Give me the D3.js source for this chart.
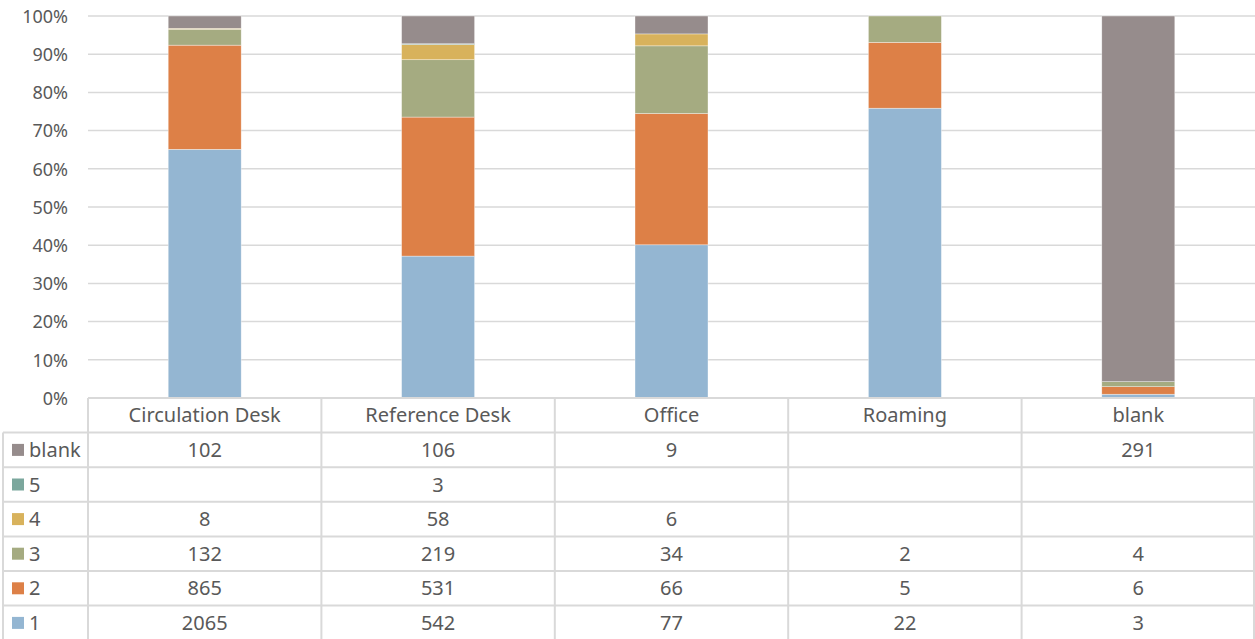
<!DOCTYPE html>
<html>
<head>
<meta charset="utf-8">
<script src="https://cdn.jsdelivr.net/npm/d3@7"></script>
<style>
  html, body { margin: 0; padding: 0; background: #fff; }
  svg { display: block; font-family: "Noto Sans", "DejaVu Sans", sans-serif; }
</style>
</head>
<body>
<svg id="chart" width="1255" height="639"></svg>
<script>
// Locations where questions were answered
const categories = ["Circulation Desk", "Reference Desk", "Office", "Roaming", "blank"];
// Rating series, bottom of the stack first
const seriesNames = ["1", "2", "3", "4", "5", "blank"];
const rating1 = [2065, 542, 77, 22, 3];
const rating2 = [865, 531, 66, 5, 6];
const rating3 = [132, 219, 34, 2, 4];
const rating4 = [8, 58, 6, null, null];
const rating5 = [null, 3, null, null, null];
const ratingBlank = [102, 106, 9, null, 291];
const yTicks = [0, 0.1, 0.2, 0.3, 0.4, 0.5, 0.6, 0.7, 0.8, 0.9, 1];
const colors = ["#94B6D2", "#DD8047", "#A5AB81", "#D8B25C", "#7BA79D", "#968C8C"];

const seriesValues = [rating1, rating2, rating3, rating4, rating5, ratingBlank];

const svg = d3.select("#chart");
const W = 1255;
const plotLeft = 88, plotRight = 1255, plotTop = 16, plotBottom = 398;
const tableTop = 398, rowH = 34.6;
const labelColLeft = 3;
const textColor = "#595959";
const gridColor = "#D9D9D9";
const fontPx = "20px";

// Build rows of {cat, series values}
const rows = categories.map((c, i) => {
  const r = { cat: c };
  seriesNames.forEach((s, j) => { r[s] = seriesValues[j][i] || 0; });
  return r;
});

const stacked = d3.stack().keys(seriesNames).offset(d3.stackOffsetExpand)(rows);

const x = d3.scaleBand().domain(categories).range([plotLeft, plotRight]).paddingInner(0).paddingOuter(0);
const barW = 73;
const y = d3.scaleLinear().domain([0, 1]).range([plotBottom, plotTop]);

// Horizontal gridlines
svg.append("g").selectAll("line").data(yTicks.filter(t => t > 0)).join("line")
  .attr("x1", plotLeft).attr("x2", plotRight)
  .attr("y1", d => y(d)).attr("y2", d => y(d))
  .attr("stroke", gridColor).attr("stroke-width", 1.5);

// Y axis labels
const yAxis = d3.axisLeft(y).tickValues(yTicks).tickFormat(d3.format(".0%")).tickSize(0).tickPadding(0);
const gy = svg.append("g").attr("transform", `translate(68,0)`).call(yAxis);
gy.select(".domain").remove();
gy.selectAll("text").attr("fill", textColor).style("font-size", "18px")
  .style("font-family", "'Noto Sans', sans-serif").attr("dy", "0.35em");

// Stacked bars
svg.append("g").selectAll("g").data(stacked).join("g")
  .attr("fill", (d, i) => colors[i])
  .selectAll("rect").data(d => d).join("rect")
  .attr("x", d => x(d.data.cat) + x.bandwidth() / 2 - barW / 2)
  .attr("width", barW)
  .attr("y", d => y(d[1]))
  .attr("height", d => Math.max(0, y(d[0]) - y(d[1])))
  .attr("stroke", "#fff").attr("stroke-width", 0.6).attr("stroke-opacity", 0.6);

// Data table
const table = svg.append("g");
const nRows = seriesNames.length;
const tableBottom = tableTop + rowH * (nRows + 1);

// Horizontal table lines
const hLines = [];
hLines.push({ x1: plotLeft, y: tableTop });
for (let i = 1; i <= nRows; i++) hLines.push({ x1: labelColLeft, y: tableTop + rowH * i });
table.selectAll("line.h").data(hLines).join("line").attr("class", "h")
  .attr("x1", d => d.x1).attr("x2", W).attr("y1", d => d.y).attr("y2", d => d.y)
  .attr("stroke", gridColor).attr("stroke-width", 2);

// Vertical table lines
const vLines = categories.map(c => x(c)).concat([plotRight - 1]);
table.selectAll("line.v").data(vLines).join("line").attr("class", "v")
  .attr("x1", d => d).attr("x2", d => d).attr("y1", tableTop).attr("y2", tableBottom)
  .attr("stroke", gridColor).attr("stroke-width", 2);
table.append("line").attr("x1", labelColLeft).attr("x2", labelColLeft)
  .attr("y1", tableTop + rowH).attr("y2", tableBottom)
  .attr("stroke", gridColor).attr("stroke-width", 2);

// Category header row
table.selectAll("text.cat").data(categories).join("text").attr("class", "cat")
  .attr("x", d => x(d) + x.bandwidth() / 2).attr("y", tableTop + rowH / 2)
  .attr("dy", "0.35em").attr("text-anchor", "middle")
  .attr("fill", textColor).style("font-size", fontPx).text(d => d);

// Series rows, top of the stack first
const displayOrder = seriesNames.map((s, i) => i).reverse();
displayOrder.forEach((si, r) => {
  const cy = tableTop + rowH * (r + 1) + rowH / 2;
  table.append("rect").attr("x", 12).attr("y", cy - 6).attr("width", 12).attr("height", 12)
    .attr("fill", colors[si]);
  table.append("text").attr("x", 29).attr("y", cy).attr("dy", "0.35em")
    .attr("fill", textColor).style("font-size", fontPx).text(seriesNames[si]);
  table.selectAll(null).data(categories.map((c, ci) => ({ c, v: seriesValues[si][ci] })))
    .join("text")
    .attr("x", d => x(d.c) + x.bandwidth() / 2).attr("y", cy).attr("dy", "0.35em")
    .attr("text-anchor", "middle").attr("fill", textColor).style("font-size", fontPx)
    .text(d => d.v == null ? "" : d.v);
});
</script>
</body>
</html>
